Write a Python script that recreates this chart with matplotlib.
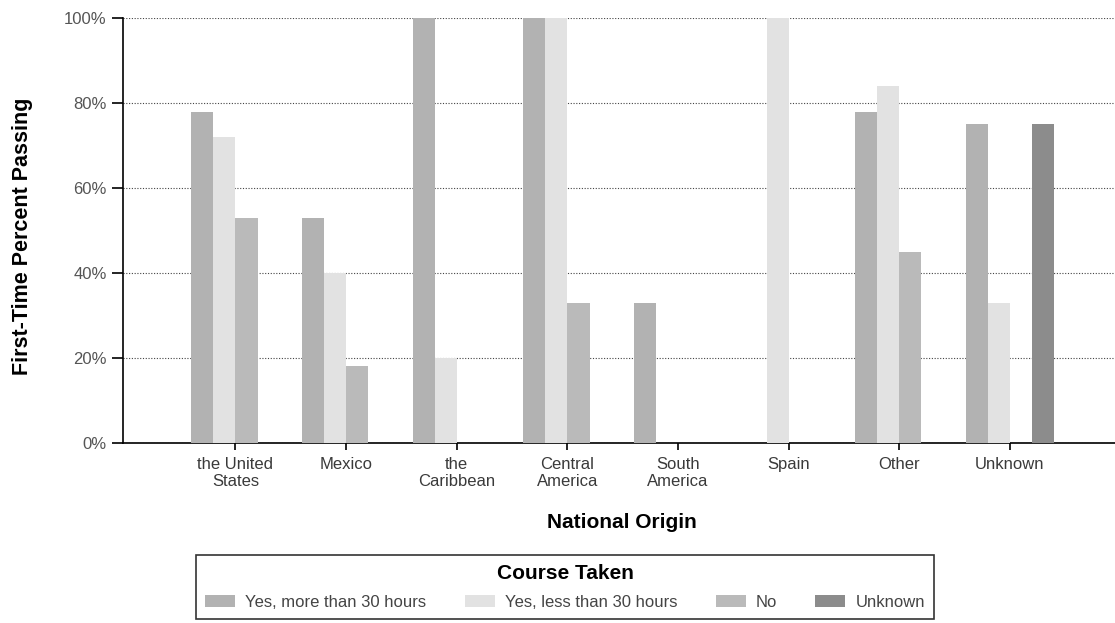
import matplotlib.pyplot as plt
import numpy as np

plt.rcParams['font.family'] = ['Liberation Sans', 'DejaVu Sans']

origins = ['the United\nStates', 'Mexico', 'the\nCaribbean', 'Central\nAmerica',
           'South\nAmerica', 'Spain', 'Other', 'Unknown']
courses = ['Yes, more than 30 hours', 'Yes, less than 30 hours', 'No', 'Unknown']

# percent passing per course group (nan = no bar)
more_30 = [78, 53, 100, 100, 33, np.nan, 78, 75]
less_30 = [72, 40, 20, 100, np.nan, 100, 84, 33]
no_course = [53, 18, np.nan, 33, np.nan, np.nan, 45, np.nan]
unknown = [np.nan, np.nan, np.nan, np.nan, np.nan, np.nan, np.nan, 75]

series = [more_30, less_30, no_course, unknown]
colors = ['#b2b2b2', '#e2e2e2', '#bababa', '#8c8c8c']

fig = plt.figure(figsize=(11.15, 6.23), dpi=100)
ax = fig.add_axes([0.110, 0.289, 0.890, 0.682])

x = np.arange(len(origins))
w = 0.2
for i, (vals, c, lab) in enumerate(zip(series, colors, courses)):
    ax.bar(x + (i - 1.5) * w, vals, width=w, color=c, label=lab,
           edgecolor='none', zorder=3)

ax.set_xlim(-1.02, 7.95)
ax.set_ylim(0, 100)
ax.set_yticks(range(0, 101, 20))
ax.set_yticklabels([f'{v}%' for v in range(0, 101, 20)], color='#555555', fontsize=12)
ax.set_xticks(x)
ax.set_xticklabels(origins, fontsize=12, color='#3a3a3a', linespacing=1.15)
ax.yaxis.grid(True, linestyle=(0, (1, 1.5)), color='#444444', linewidth=0.8, zorder=0)
for s in ['top', 'right']:
    ax.spines[s].set_visible(False)
ax.spines['left'].set_linewidth(1.2)
ax.spines['bottom'].set_linewidth(1.2)
ax.tick_params(axis='y', length=8, width=1.2, pad=3.5)
ax.tick_params(axis='x', length=5, width=1.2, pad=5)

ax.set_ylabel('First-Time Percent Passing', fontsize=15.5, fontweight='bold')
ax.yaxis.set_label_coords(-0.090, 0.487)
ax.set_xlabel('National Origin', fontsize=15, fontweight='bold')
ax.xaxis.set_label_coords(0.503, -0.166)

leg = fig.legend(loc='upper center', bbox_to_anchor=(565 / 1115, 1 - 555 / 623), ncol=4,
                 title='Course Taken', title_fontproperties={'weight': 'bold', 'size': 15},
                 fontsize=12, frameon=True, fancybox=False, edgecolor='black',
                 columnspacing=2.3, handlelength=1.8, handleheight=0.7,
                 handletextpad=0.6, borderpad=0.55, labelspacing=0.7, borderaxespad=0)
leg.get_frame().set_linewidth(1.2)
for t in leg.get_texts():
    t.set_color('#444444')

fig.savefig('out.png', dpi=100)
